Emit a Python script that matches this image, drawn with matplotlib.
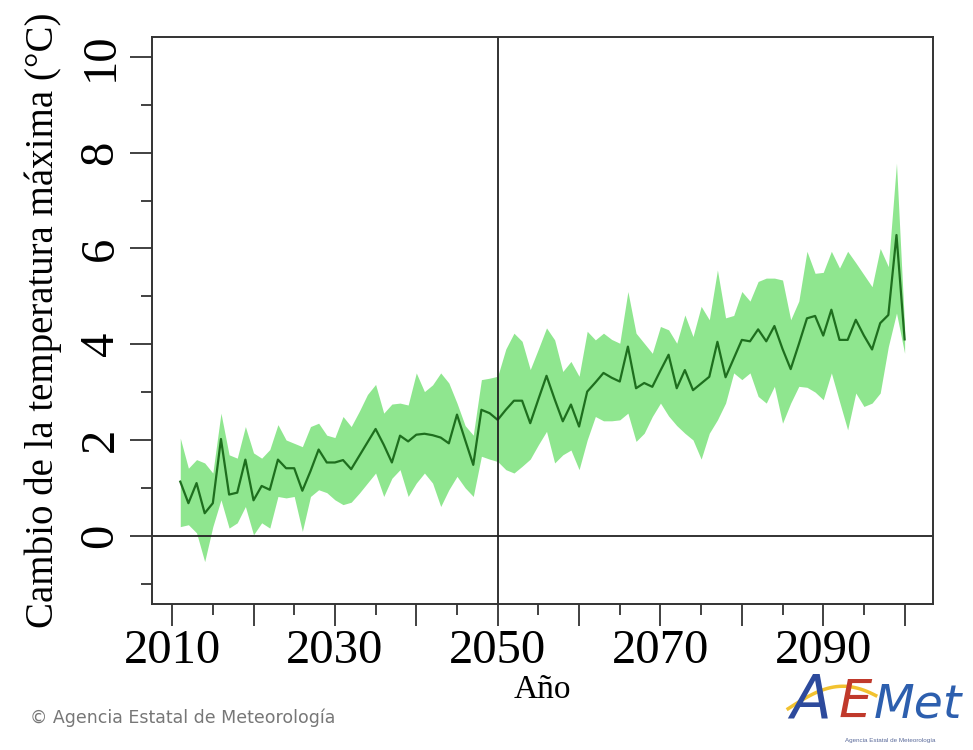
import numpy as np
import matplotlib.pyplot as plt
from matplotlib.ticker import MultipleLocator

# datos (cambio de temperatura maxima, ºC)
years = np.arange(2011, 2101)

media = [1.13, 0.68, 1.10, 0.47, 0.68, 2.02, 0.86, 0.90, 1.59, 0.74,
         1.04, 0.96, 1.59, 1.41, 1.41, 0.94, 1.35, 1.80, 1.53, 1.53,
         1.58, 1.39, 1.67, 1.95, 2.23, 1.90, 1.53, 2.09, 1.97, 2.11,
         2.13, 2.10, 2.05, 1.93, 2.53, 2.00, 1.48, 2.63, 2.56, 2.42,
         2.63, 2.82, 2.82, 2.35, 2.85, 3.34, 2.85, 2.39, 2.74, 2.28,
         3.01, 3.20, 3.40, 3.30, 3.22, 3.95, 3.08, 3.19, 3.11, 3.45,
         3.78, 3.08, 3.46, 3.04, 3.18, 3.32, 4.05, 3.31, 3.70, 4.09,
         4.06, 4.31, 4.06, 4.38, 3.90, 3.48, 4.00, 4.54, 4.59, 4.18,
         4.72, 4.09, 4.09, 4.51, 4.18, 3.89, 4.44, 4.61, 6.28, 4.10]

superior = [2.04, 1.41, 1.59, 1.52, 1.31, 2.56, 1.69, 1.62, 2.28, 1.73,
            1.62, 1.80, 2.32, 2.00, 1.93, 1.86, 2.28, 2.35, 2.10, 2.05,
            2.49, 2.28, 2.60, 2.95, 3.16, 2.56, 2.75, 2.77, 2.73, 3.40,
            3.01, 3.15, 3.40, 3.19, 2.77, 2.30, 2.10, 3.26, 3.29, 3.33,
            3.90, 4.23, 4.06, 3.47, 3.90, 4.34, 4.09, 3.43, 3.64, 3.33,
            4.27, 4.09, 4.23, 4.10, 4.02, 5.10, 4.23, 4.02, 3.81, 4.37,
            4.30, 4.02, 4.61, 4.16, 4.79, 4.51, 5.55, 4.55, 4.60, 5.10,
            4.90, 5.31, 5.38, 5.38, 5.34, 4.51, 4.90, 5.94, 5.48, 5.50,
            5.94, 5.59, 5.94, 5.70, 5.45, 5.20, 6.00, 5.62, 7.78, 4.35]

inferior = [0.19, 0.23, 0.06, -0.54, 0.19, 0.75, 0.16, 0.27, 0.61, 0.02,
            0.27, 0.16, 0.82, 0.79, 0.82, 0.09, 0.82, 0.96, 0.90, 0.75,
            0.65, 0.70, 0.89, 1.10, 1.31, 0.82, 1.20, 1.38, 0.82, 1.10,
            1.31, 1.10, 0.61, 0.96, 1.24, 1.00, 0.82, 1.66, 1.60, 1.55,
            1.38, 1.31, 1.45, 1.60, 1.90, 2.18, 1.52, 1.69, 1.79, 1.38,
            2.00, 2.49, 2.40, 2.40, 2.42, 2.56, 1.97, 2.14, 2.49, 2.77,
            2.50, 2.30, 2.14, 2.00, 1.60, 2.14, 2.42, 2.77, 3.40, 3.26,
            3.40, 2.91, 2.77, 3.12, 2.35, 2.77, 3.12, 3.10, 3.00, 2.84,
            3.40, 2.80, 2.21, 2.98, 2.70, 2.77, 2.98, 3.95, 4.65, 3.81]

x_labels = [2010, 2030, 2050, 2070, 2090]

serif = ['Liberation Serif', 'DejaVu Serif']

fig = plt.figure(figsize=(9.73, 7.5), dpi=100)
ax = fig.add_axes([0.156, 0.195, 0.803, 0.756])

ax.fill_between(years, inferior, superior, color='#8fe68f', lw=0)
ax.plot(years, media, color='#1e6e1e', lw=1.6)
ax.axhline(0, color='#222222', lw=1.3)
ax.axvline(2050, color='#222222', lw=1.3)

ax.set_xlim(2007.5, 2103.5)
ax.set_ylim(-1.42, 10.42)

ax.xaxis.set_minor_locator(MultipleLocator(5))
ax.set_xticks(range(2010, 2101, 10))
ax.set_xticklabels([str(a) if a in x_labels else '' for a in range(2010, 2101, 10)])
ax.yaxis.set_major_locator(MultipleLocator(2))
ax.yaxis.set_minor_locator(MultipleLocator(1))

ax.tick_params(which='major', length=16, width=1.3, color='#333333', pad=2)
ax.tick_params(which='minor', length=8, width=1.3, color='#333333')
ax.tick_params(axis='y', pad=5)
for lab in ax.get_xticklabels():
    lab.set_family(serif)
    lab.set_fontsize(35)
for lab in ax.get_yticklabels():
    lab.set_family(serif)
    lab.set_fontsize(35)
    lab.set_rotation(90)
    lab.set_va('center')
for s in ax.spines.values():
    s.set_linewidth(1.4)
    s.set_color('#333333')

ax.set_xlabel('Año', family=serif, fontsize=24, labelpad=1)
ax.set_ylabel('Cambio de la temperatura máxima (°C)', family=serif, fontsize=28, labelpad=12)

fig.text(0.031, 0.043, '© Agencia Estatal de Meteorología', family='DejaVu Sans',
         fontsize=12.5, color='#777777', va='center')

# logo AEMET
base = 0.043
fig.text(0.812, base, 'A', family='DejaVu Sans', style='italic', fontsize=43,
         color='#2d4a9c', va='baseline')
fig.text(0.862, base, 'E', family='DejaVu Sans', style='italic', fontsize=38,
         color='#c0392b', va='baseline')
fig.text(0.898, base, 'Met', family='DejaVu Sans', style='italic', fontsize=34,
         color='#2d5fae', va='baseline')
t = np.linspace(0, 1, 30)
fig.add_artist(plt.Line2D(0.81 + 0.09 * t, 0.055 + 0.03 * np.sin(t * np.pi * 0.8),
                          transform=fig.transFigure, color='#f2c230', lw=2.5))
fig.text(0.915, 0.013, 'Agencia Estatal de Meteorología', family='Liberation Sans',
         fontsize=4.5, color='#5a6a9a', ha='center', va='center')

fig.savefig('out.png', dpi=100)
